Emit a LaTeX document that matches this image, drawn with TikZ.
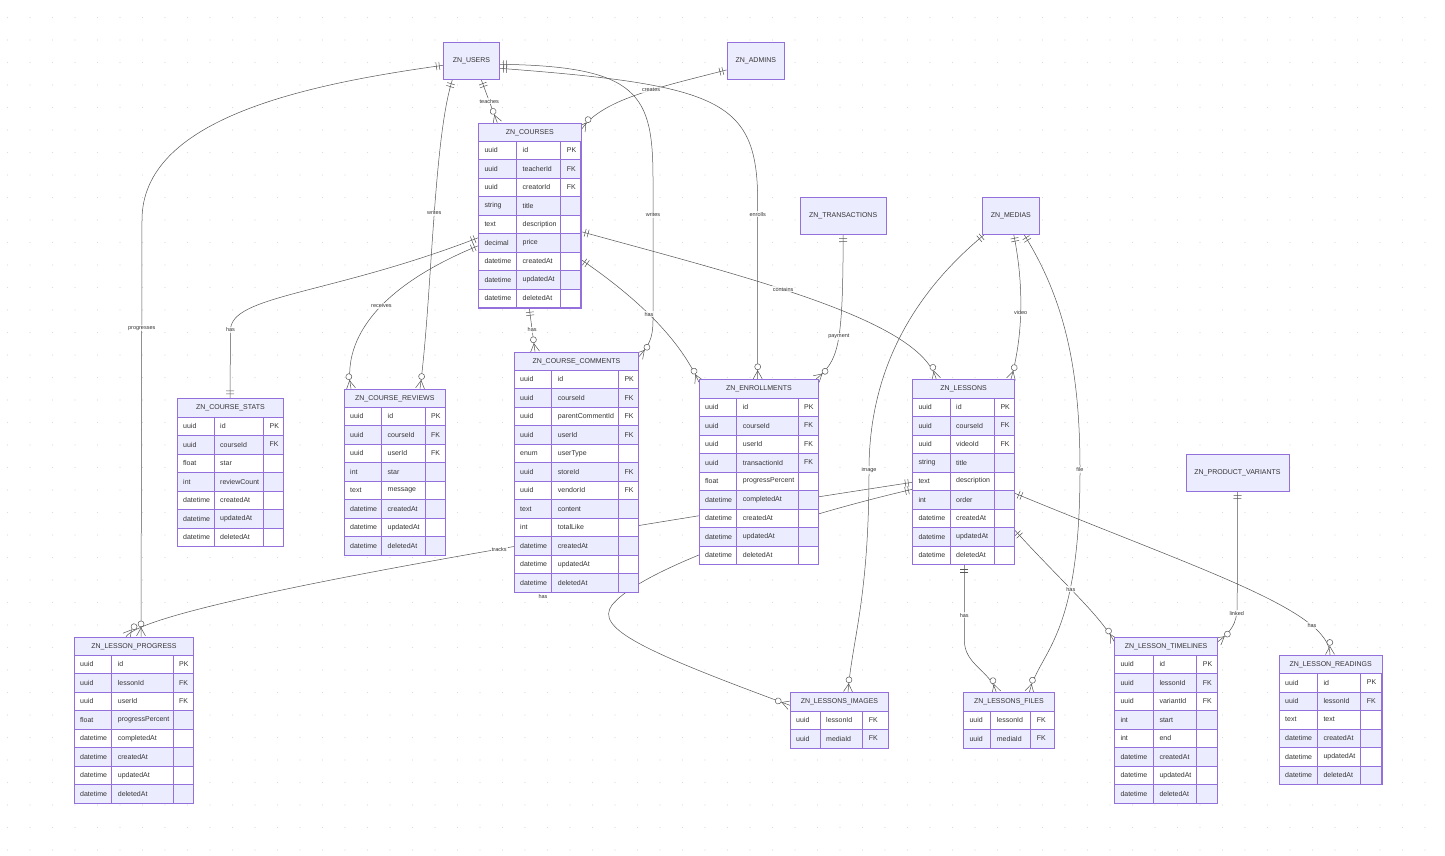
\documentclass[tikz,border=0pt]{standalone}
\usepackage{fontspec}
\setmainfont{Liberation Sans}
\usepackage{tikz}
\usetikzlibrary{positioning,calc,backgrounds,decorations.markings}

\definecolor{erline}{HTML}{9370DB}
\definecolor{erfill}{HTML}{ECECFF}
\definecolor{ertext}{HTML}{333333}
\definecolor{relc}{HTML}{555555}
\definecolor{gridc}{HTML}{DCDCDC}

\tikzset{
  erhead/.style={draw=erline, line width=0.6pt, fill=erfill, inner sep=0pt,
                 text=ertext, font=\fontsize{7}{8}\selectfont, minimum height=18.5},
  ercell/.style={anchor=west, inner sep=2pt, text=ertext, font=\fontsize{7}{8}\selectfont},
  erborder/.style={draw=erline, line width=0.6pt},
}

% entity with attributes: name, left, top, col2, col3, right, title, rows
\newcommand{\ertable}[8]{%
  \node[erhead, minimum width={#6-#2}, anchor=north west] (#1-h) at (#2,#3) {#7};
  \foreach \ty/\nm/\ky [count=\i] in {#8} {
    \ifodd\i\relax \def\rowc{white}\else \def\rowc{erfill}\fi
    \draw[erborder, fill=\rowc] (#2,{#3+18.5*\i}) rectangle (#6,{#3+18.5*(\i+1)});
    \draw[erborder] (#4,{#3+18.5*\i}) -- (#4,{#3+18.5*(\i+1)})
                    (#5,{#3+18.5*\i}) -- (#5,{#3+18.5*(\i+1)});
    \node[ercell] (#1-t\i) at (#2+4,{#3+18.5*(\i+0.5)}) {\ty};
    \node[ercell] (#1-n\i) at (#4+4,{#3+18.5*(\i+0.5)}) {\nm};
    \node[ercell] (#1-k\i) at (#5+4,{#3+18.5*(\i+0.5)}) {\ky};
    \xdef\nrows{\i}
  }
  \node[erborder, inner sep=0pt, minimum width={#6-#2},
        minimum height={18.5*(\nrows+1)}, anchor=north west] (#1) at (#2,#3) {};
}
% entity without attributes: name, left, top, width, title
\newcommand{\erbox}[5]{%
  \node[erhead, minimum width={#4}, minimum height=37, anchor=north west] (#1) at (#2,#3) {#5};
}

\begin{document}
\begin{tikzpicture}[
  x=1pt, y=-1pt,
  rel/.style={draw=relc, line width=0.5pt},
  lbl/.style={font=\fontsize{5.5}{6}\selectfont, text=ertext, fill=white,
              fill opacity=0.8, text opacity=1, inner sep=1pt},
  erone/.style={postaction={decorate, decoration={markings,
      mark=at position 0 with {\draw[rel] (4,-4) -- (4,4) (7,-4) -- (7,4);}}}},
  eroneend/.style={postaction={decorate, decoration={markings,
      mark=at position 0.999 with {\draw[rel] (-4,-4) -- (-4,4) (-7,-4) -- (-7,4);}}}},
  ermany/.style={postaction={decorate, decoration={markings,
      mark=at position 0.999 with {\draw[rel] (0,4.5) -- (-8,0) -- (0,-4.5);
                                   \draw[rel, fill=white] (-12,0) circle (3pt);}}}},
]
\useasboundingbox (0,0) rectangle (1445,855);

% entities
\erbox{users}{443.3}{42.3}{55.7}{ZN\_USERS}
\erbox{admins}{726.7}{42.3}{57.6}{ZN\_ADMINS}
\erbox{trans}{800}{196.7}{85.7}{ZN\_TRANSACTIONS}
\erbox{medias}{981.7}{196.7}{57.6}{ZN\_MEDIAS}
\erbox{variants}{1185.7}{453.7}{103}{ZN\_PRODUCT\_VARIANTS}

\ertable{courses}{478.3}{122.7}{516.5}{560.7}{580.7}{ZN\_COURSES}{uuid/id/PK,
  uuid/teacherId/FK, uuid/creatorId/FK, string/title/{}, text/description/{},
  decimal/price/{}, datetime/createdAt/{}, datetime/updatedAt/{}, datetime/deletedAt/{}}
\ertable{stats}{177}{398.3}{214}{263.5}{283.3}{ZN\_COURSE\_STATS}{uuid/id/PK,
  uuid/courseId/FK, float/star/{}, int/reviewCount/{}, datetime/createdAt/{},
  datetime/updatedAt/{}, datetime/deletedAt/{}}
\ertable{reviews}{344}{388.7}{381.5}{425}{445}{ZN\_COURSE\_REVIEWS}{uuid/id/PK,
  uuid/courseId/FK, uuid/userId/FK, int/star/{}, text/message/{},
  datetime/createdAt/{}, datetime/updatedAt/{}, datetime/deletedAt/{}}
\ertable{comments}{514}{351.7}{551.7}{618.3}{638.3}{ZN\_COURSE\_COMMENTS}{uuid/id/PK,
  uuid/courseId/FK, uuid/parentCommentId/FK, uuid/userId/FK, enum/userType/{},
  uuid/storeId/FK, uuid/vendorId/FK, text/content/{}, int/totalLike/{},
  datetime/createdAt/{}, datetime/updatedAt/{}, datetime/deletedAt/{}}
\ertable{enroll}{699}{379.3}{736.7}{798}{818.3}{ZN\_ENROLLMENTS}{uuid/id/PK,
  uuid/courseId/FK, uuid/userId/FK, uuid/transactionId/FK, float/progressPercent/{},
  datetime/completedAt/{}, datetime/createdAt/{}, datetime/updatedAt/{}, datetime/deletedAt/{}}
\ertable{lessons}{912.3}{379.3}{950}{994.3}{1014.3}{ZN\_LESSONS}{uuid/id/PK,
  uuid/courseId/FK, uuid/videoId/FK, string/title/{}, text/description/{},
  int/order/{}, datetime/createdAt/{}, datetime/updatedAt/{}, datetime/deletedAt/{}}
\ertable{progress}{74}{636.7}{111.7}{173}{193.3}{ZN\_LESSON\_PROGRESS}{uuid/id/PK,
  uuid/lessonId/FK, uuid/userId/FK, float/progressPercent/{}, datetime/completedAt/{},
  datetime/createdAt/{}, datetime/updatedAt/{}, datetime/deletedAt/{}}
\ertable{images}{790}{692.3}{820}{862.7}{888.3}{ZN\_LESSONS\_IMAGES}{uuid/lessonId/FK,
  uuid/mediaId/FK}
\ertable{files}{963.3}{692.3}{990.7}{1030.7}{1054}{ZN\_LESSONS\_FILES}{uuid/lessonId/FK,
  uuid/mediaId/FK}
\ertable{timelines}{1114.3}{636.7}{1153.3}{1196.7}{1217.3}{ZN\_LESSON\_TIMELINES}{uuid/id/PK,
  uuid/lessonId/FK, uuid/variantId/FK, int/start/{}, int/end/{},
  datetime/createdAt/{}, datetime/updatedAt/{}, datetime/deletedAt/{}}
\ertable{readings}{1279}{654.8}{1317.3}{1360.7}{1381.7}{ZN\_LESSON\_READINGS}{uuid/id/PK,
  uuid/lessonId/FK, text/text/{}, datetime/createdAt/{}, datetime/updatedAt/{},
  datetime/deletedAt/{}}

% relations, behind the tables
\begin{pgfonlayer}{background}
\fill[white] (0,0) rectangle (1445,855);
\foreach \gx in {0,...,63} \foreach \gy in {0,...,37}
  \fill[gridc] ({7.5+22.5*\gx},{17.5+22.5*\gy}) circle (0.7pt);

\draw[rel, erone, ermany] ($(users.south west)+(38,0)$) -- node[lbl]{teaches}
  ($(courses.north west)+(19,0)$);
\draw[rel, erone, ermany] ($(admins.south west)+(0,-10)$) .. controls +(-70,18) and +(20,-30) ..
  node[lbl, pos=0.4]{creates} ($(courses.north east)+(0,7)$);
\draw[rel, erone, ermany] ($(users.south west)+(9,0)$) .. controls +(-19,60) and +(12,-90) ..
  node[lbl, pos=0.47]{writes} ($(reviews.north west)+(76,0)$);
\draw[rel, erone, ermany] ($(users.north east)+(0,22)$) .. controls (640,66) and (653,95) ..
  (653,180) -- node[lbl, pos=0.25]{writes} (653,320) .. controls (653,340) and (648,346) ..
  ($(comments.north east)+(0,5)$);
\draw[rel, erone, ermany] ($(users.north east)+(0,26)$) .. controls (720,85) and (757,100) ..
  (757.7,200) -- node[lbl, pos=0.08]{enrolls} ($(enroll.north west)+(58.7,0)$);
\draw[rel, erone, ermany] ($(users.north west)+(0,23)$) .. controls (300,85) and (142,120) ..
  (142,220) -- node[lbl, pos=0.26]{progresses} ($(progress.north west)+(67,0)$);

\draw[rel, erone, eroneend] ($(courses.north west)+(0,115)$) .. controls (330,295) and (231,295) ..
  (230.5,330) node[lbl]{has} -- ($(stats.north west)+(53,0)$);
\draw[rel, erone, ermany] ($(courses.north west)+(0,123)$) .. controls (370,290) and (343,345) ..
  node[lbl, pos=0.42]{receives} ($(reviews.north west)+(7,0)$);
\draw[rel, erone, ermany] ($(courses.south west)+(51,0)$) -- node[lbl]{has}
  ($(comments.north west)+(21,0)$);
\draw[rel, erone, ermany] ($(courses.north east)+(0,137)$) .. controls (640,300) and (680,340) ..
  node[lbl, pos=0.45]{has} ($(enroll.north west)+(0,3)$);
\draw[rel, erone, ermany] ($(courses.north east)+(0,109)$) .. controls (750,278) and (920,320) ..
  node[lbl, pos=0.42]{contains} ($(lessons.north west)+(24,0)$);

\draw[rel, erone, ermany] (trans.south) .. controls (843,350) and (838,360) ..
  node[lbl, pos=0.45]{payment} ($(enroll.north east)+(-3,0)$);
\draw[rel, erone, ermany] ($(medias.south west)+(32,0)$) .. controls (1025,290) and (1022,340) ..
  node[lbl, pos=0.5]{video} ($(lessons.north east)+(-4,0)$);
\draw[rel, erone, ermany] ($(medias.south west)+(3,0)$) .. controls (905,300) and (869,380) ..
  (869,470) node[lbl]{image} .. controls (869,600) and (852,640) .. ($(images.north west)+(58,0)$);
\draw[rel, erone, ermany] ($(medias.south east)+(-16,0)$) .. controls (1065,300) and (1080,370) ..
  (1080,470) node[lbl]{file} .. controls (1080,640) and (1040,650) .. ($(files.north west)+(66,0)$);

\draw[rel, erone, ermany] ($(lessons.north west)+(0,103)$) .. controls (700,515) and (150,600) ..
  node[lbl, pos=0.45]{tracks} ($(progress.north west)+(52,0)$);
\draw[rel, erone, ermany] ($(lessons.north west)+(0,110)$) .. controls (780,520) and (640,570) ..
  (612,605) .. controls (595,628) and (640,650) .. ($(images.north west)+(0,13)$)
  node[lbl] at (543,597) {has};
\draw[rel, erone, ermany] ($(lessons.south west)+(52,0)$) -- node[lbl, pos=0.67]{has} (964.3,640)
  .. controls (964.3,665) and (990,670) .. ($(files.north west)+(33,0)$);
\draw[rel, erone, ermany] ($(lessons.north east)+(0,151)$) .. controls (1060,580) and (1100,615) ..
  node[lbl, pos=0.45]{has} ($(timelines.north west)+(0,5)$);
\draw[rel, erone, ermany] ($(lessons.north east)+(0,114)$) .. controls (1200,570) and (1330,610) ..
  node[lbl, pos=0.78]{has} ($(readings.north west)+(51,0)$);
\draw[rel, erone, ermany] (variants.south) -- (1237.2,605) .. controls (1237.2,625) and (1230,632) ..
  node[lbl, pos=0.15]{linked} ($(timelines.north east)+(0,5)$);
\end{pgfonlayer}
\end{tikzpicture}
\end{document}
